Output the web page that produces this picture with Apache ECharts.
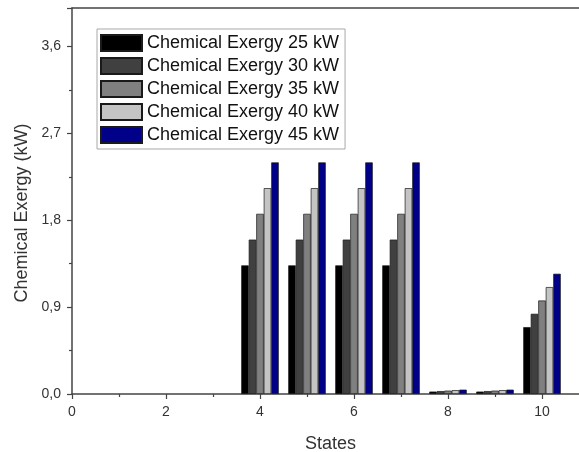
<!DOCTYPE html>
<html>
<head>
    <meta charset="utf-8">
    <title>Chemical Exergy</title>
    <script src="https://cdn.jsdelivr.net/npm/echarts@6/dist/echarts.min.js"></script>
    <style>
        html, body {margin: 0; padding: 0; background: #fff;}
        #mychart {width: 579px; height: 452px;}
    </style>
</head>
<body>
<div id="mychart"></div>
<script>
    // data
    var states = [4, 5, 6, 7, 8, 9, 10];
    var seriesNames = ['Chemical Exergy 25 kW', 'Chemical Exergy 30 kW', 'Chemical Exergy 35 kW',
        'Chemical Exergy 40 kW', 'Chemical Exergy 45 kW'];
    var ex25 = [1.333, 1.333, 1.333, 1.333, 0.025, 0.025, 0.693];
    var ex30 = [1.600, 1.600, 1.600, 1.600, 0.030, 0.030, 0.831];
    var ex35 = [1.867, 1.867, 1.867, 1.867, 0.035, 0.035, 0.969];
    var ex40 = [2.133, 2.133, 2.133, 2.133, 0.040, 0.040, 1.108];
    var ex45 = [2.400, 2.400, 2.400, 2.400, 0.045, 0.045, 1.246];
    var colors = ['#000000', '#404040', '#808080', '#c4c4c4', '#000088'];

    var allValues = [ex25, ex30, ex35, ex40, ex45];
    var font = 'Liberation Sans, Arial, sans-serif';

    var series = [];
    for (var i = 0; i < allValues.length; i++) {
        var pts = [];
        for (var j = 0; j < states.length; j++) {
            pts.push([states[j], allValues[i][j]]);
        }
        series.push({
            name: seriesNames[i],
            type: 'bar',
            data: pts,
            barWidth: 7.5,
            barGap: '0%',
            itemStyle: {color: colors[i], borderColor: '#1a1a1a', borderWidth: 0.7},
            emphasis: {disabled: true}
        });
    }

    var myChart = echarts.init(document.getElementById('mychart'), null, {renderer: 'canvas'});
    var option = {
        animation: false,
        textStyle: {fontFamily: font},
        grid: {left: 72, top: 8, right: -10, bottom: 58, containLabel: false, outerBoundsMode: 'none'},
        legend: {
            orient: 'vertical',
            left: 97,
            top: 29,
            icon: 'rect',
            itemWidth: 41,
            itemHeight: 16,
            itemGap: 5,
            padding: [5, 6, 5, 3],
            borderColor: '#a8a8a8',
            borderWidth: 1,
            backgroundColor: '#fff',
            textStyle: {fontSize: 18, color: '#111', fontFamily: font, lineHeight: 17},
            data: seriesNames
        },
        xAxis: [{
            type: 'value',
            min: 0,
            max: 11,
            interval: 2,
            name: 'States',
            nameLocation: 'middle',
            nameGap: 41,
            nameTextStyle: {fontSize: 18, color: '#333', fontFamily: font},
            axisLine: {show: true, lineStyle: {color: '#444', width: 1.5}},
            axisTick: {show: true, length: 5, lineStyle: {color: '#444', width: 1.2}},
            minorTick: {show: true, splitNumber: 2, length: 3, lineStyle: {color: '#444', width: 1.2}},
            axisLabel: {fontSize: 14, color: '#333', margin: 11, fontFamily: font, showMaxLabel: false},
            splitLine: {show: false}
        }, {
            type: 'value',
            position: 'top',
            min: 0,
            max: 11,
            axisLine: {show: true, onZero: false, lineStyle: {color: '#444', width: 1.5}},
            axisTick: {show: false},
            axisLabel: {show: false},
            splitLine: {show: false}
        }],
        yAxis: {
            type: 'value',
            min: 0,
            max: 4,
            interval: 0.9,
            name: 'Chemical Exergy (kW)',
            nameLocation: 'middle',
            nameGap: 37,
            nameTextStyle: {fontSize: 18, color: '#333', fontFamily: font, padding: [0, 24, 0, 0]},
            axisLine: {show: true, lineStyle: {color: '#444', width: 1.5}},
            axisTick: {show: true, length: 5, lineStyle: {color: '#444', width: 1.2}},
            minorTick: {show: true, splitNumber: 2, length: 3, lineStyle: {color: '#444', width: 1.2}},
            axisLabel: {
                fontSize: 14, color: '#333', margin: 11, fontFamily: font, showMaxLabel: false,
                formatter: function (v) { return v.toFixed(1).replace('.', ','); }
            },
            splitLine: {show: false}
        },
        series: series
    };
    myChart.setOption(option);
</script>
</body>
</html>
